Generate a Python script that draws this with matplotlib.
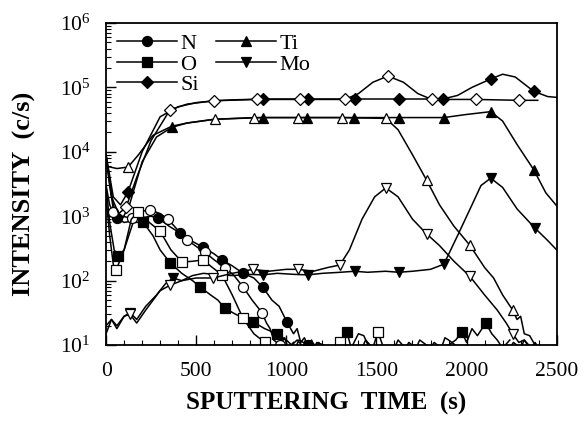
import numpy as np
import matplotlib
matplotlib.use("Agg")
import matplotlib.pyplot as plt
from matplotlib.ticker import LogLocator, MultipleLocator

plt.rcParams['font.family'] = ['Liberation Serif', 'DejaVu Serif']
plt.rcParams['mathtext.fontset'] = 'stix'

# ---- data (time s, intensity c/s) ----
# filled markers = sample A, open markers = sample B
si_a_t = [0, 40, 80, 122, 200, 300, 400, 500, 600, 700, 870, 1000, 1120, 1250, 1380, 1500, 1624, 1750, 1868, 1950, 2030, 2134, 2200, 2270, 2372, 2450, 2500]
si_a_v = [9000, 2000, 1500, 2400, 10000, 35000, 50000, 58000, 62000, 64000, 66000, 66000, 66000, 66000, 66000, 66000, 66000, 66000, 66000, 75000, 100000, 135000, 160000, 145000, 87000, 72000, 70000]
si_a_mk = [122, 870, 1120, 1380, 1624, 1868, 2134, 2372]

si_b_t = [0, 30, 70, 111, 170, 250, 355, 450, 600, 837, 1075, 1325, 1400, 1480, 1563, 1650, 1730, 1807, 2050, 2290, 2395]
si_b_v = [8000, 2000, 1100, 1380, 4000, 15000, 45000, 55000, 62000, 65000, 65000, 65000, 80000, 120000, 150000, 120000, 80000, 65000, 65000, 63000, 63000]
si_b_mk = [111, 355, 600, 837, 1075, 1325, 1563, 1807, 2050, 2290]

ti_a_t = [0, 40, 80, 130, 200, 280, 365, 450, 600, 870, 1114, 1375, 1624, 1874, 2000, 2134, 2200, 2280, 2372, 2440, 2500]
ti_a_v = [9000, 1500, 800, 1500, 7000, 17000, 24000, 28000, 32000, 34000, 34000, 34000, 34000, 34000, 38000, 42000, 30000, 13000, 5300, 2300, 1450]
ti_a_mk = [365, 870, 1114, 1375, 1624, 1874, 2134, 2372]

ti_b_t = [0, 60, 122, 180, 260, 365, 450, 604, 820, 1064, 1308, 1552, 1620, 1700, 1779, 1850, 1930, 2018, 2100, 2150, 2200, 2256, 2280, 2300, 2320, 2350, 2380, 2400]
ti_b_v = [6000, 5500, 5800, 9000, 18000, 25000, 28000, 32000, 34000, 34000, 34000, 33000, 22000, 9000, 3600, 1500, 700, 355, 160, 110, 60, 35, 25, 28, 15, 14, 10, 9]
ti_b_mk = [122, 604, 820, 1064, 1308, 1552, 1779, 2018, 2256]

mo_a_t = [0, 30, 60, 100, 133, 170, 220, 280, 330, 371, 420, 480, 540, 600, 700, 800, 870, 950, 1050, 1120, 1200, 1300, 1380, 1450, 1550, 1624, 1700, 1800, 1874, 1950, 2030, 2080, 2134, 2200, 2280, 2378, 2450, 2500]
mo_a_v = [15, 25, 20, 28, 32, 25, 40, 60, 90, 110, 100, 120, 130, 125, 120, 125, 123, 130, 125, 123, 130, 135, 140, 135, 140, 135, 140, 150, 180, 500, 1500, 3000, 3900, 2800, 1300, 660, 420, 300]
mo_a_mk = [133, 371, 870, 1120, 1380, 1624, 1874, 2134, 2378]

mo_b_t = [0, 30, 60, 100, 133, 170, 220, 300, 355, 420, 500, 593, 700, 815, 900, 1000, 1064, 1150, 1230, 1297, 1350, 1420, 1490, 1552, 1620, 1700, 1779, 1850, 1930, 2018, 2100, 2170, 2220, 2256, 2290, 2320, 2350]
mo_b_v = [20, 25, 18, 28, 30, 22, 35, 70, 85, 100, 110, 110, 130, 150, 140, 150, 150, 140, 160, 175, 300, 900, 2000, 2750, 2000, 900, 530, 350, 200, 117, 60, 35, 22, 15, 11, 12, 9]
mo_b_mk = [133, 355, 593, 815, 1064, 1297, 1552, 1779, 2018, 2256]

n_a_t = [0, 20, 40, 61, 100, 150, 200, 250, 290, 350, 410, 470, 538, 600, 643, 700, 760, 820, 870, 920, 960, 1003, 1040, 1060, 1080, 1100, 1120, 1140, 1160, 1180, 1200]
n_a_v = [9000, 3000, 1300, 930, 800, 850, 950, 1000, 930, 700, 550, 420, 330, 260, 210, 170, 130, 110, 79, 50, 40, 23, 15, 18, 11, 13, 10, 12, 9, 11, 9]
n_a_mk = [61, 290, 410, 538, 643, 760, 870, 1003, 1120]

n_b_t = [0, 20, 39, 90, 144, 200, 244, 300, 344, 400, 449, 500, 549, 600, 660, 710, 760, 810, 865, 890, 910, 930, 965, 990, 1010, 1040]
n_b_v = [3000, 1500, 1170, 1000, 930, 1200, 1250, 1100, 900, 600, 430, 340, 275, 210, 160, 120, 80, 50, 32, 22, 18, 12, 10, 13, 9, 11]
n_b_mk = [39, 144, 244, 344, 449, 549, 660, 760, 865, 965]

o_a_t = [0, 20, 45, 67, 100, 150, 205, 260, 300, 355, 420, 480, 521, 580, 620, 660, 720, 780, 815, 880, 948, 1000, 1030,
         1060, 1100, 1130, 1200, 1260, 1300, 1320, 1336, 1360, 1400, 1430, 1460, 1600, 1700, 1800, 1900, 1940, 1973, 2000, 2030, 2060, 2106, 2140, 2170, 2200,
         2240, 2260, 2300, 2320, 2360, 2380, 2400]
o_a_v = [3000, 800, 300, 240, 300, 800, 810, 500, 300, 190, 130, 100, 80, 60, 50, 37, 30, 25, 23, 18, 15, 12, 10,
         12, 9, 11, 9, 9, 9, 16, 16, 9, 15, 14, 9, 9, 10, 9, 10, 12, 16, 11, 18, 14, 22, 15, 12, 9,
         9, 11, 9, 12, 9, 11, 9]
o_a_mk = [67, 205, 355, 521, 660, 815, 948, 1336, 1973, 2106]

o_b_t = [0, 20, 40, 55, 100, 140, 177, 240, 299, 360, 421, 480, 538, 590, 643, 700, 760, 820, 881, 920, 1050, 1070, 1150, 1170, 1250, 1297, 1330,
         1420, 1440, 1480, 1508, 1540, 1600, 1620, 1660, 1680, 1720, 1740, 1800, 1820, 1860, 1880, 1900, 1960, 2200, 2240]
o_b_v = [2000, 500, 180, 145, 300, 900, 1170, 800, 590, 300, 195, 200, 210, 160, 123, 60, 26, 15, 11, 9, 9, 12, 9, 11, 9, 11, 9,
         9, 12, 9, 16, 9, 9, 12, 9, 11, 9, 12, 9, 11, 9, 13, 12, 9, 9, 12]
o_b_mk = [55, 177, 299, 421, 538, 643, 760, 881, 1297, 1508]

fig = plt.figure(figsize=(5.86, 4.25), dpi=100)
ax = fig.add_axes([0.181, 0.188, 0.769, 0.758])

sizes = {'o': 7.2, 's': 7.0, 'D': 6.3, '^': 7.5, 'v': 7.5}

def draw(t, v, mk, marker, filled, label=None):
    idx = [t.index(m) for m in mk]
    fc = 'black' if filled else 'white'
    ax.plot(t, v, color='black', lw=1.1, marker=marker, markevery=idx,
            markersize=sizes[marker], markerfacecolor=fc, markeredgecolor='black',
            markeredgewidth=0.9, label=label)

draw(n_a_t, n_a_v, n_a_mk, 'o', True, 'N')
draw(o_a_t, o_a_v, o_a_mk, 's', True, 'O')
draw(si_a_t, si_a_v, si_a_mk, 'D', True, 'Si')
draw(ti_a_t, ti_a_v, ti_a_mk, '^', True, 'Ti')
draw(mo_a_t, mo_a_v, mo_a_mk, 'v', True, 'Mo')
draw(n_b_t, n_b_v, n_b_mk, 'o', False)
draw(o_b_t, o_b_v, o_b_mk, 's', False)
draw(si_b_t, si_b_v, si_b_mk, 'D', False)
draw(ti_b_t, ti_b_v, ti_b_mk, '^', False)
draw(mo_b_t, mo_b_v, mo_b_mk, 'v', False)

ax.set_yscale('log')
ax.set_xlim(0, 2500)
ax.set_ylim(10, 1e6)
ax.xaxis.set_major_locator(MultipleLocator(500))
ax.xaxis.set_minor_locator(MultipleLocator(100))
ax.yaxis.set_minor_locator(LogLocator(base=10, subs=np.arange(2, 10), numticks=10))
ax.set_yticks([10, 100, 1e3, 1e4, 1e5, 1e6])
ax.set_yticklabels([r'$\mathregular{10^{%d}}$' % k for k in range(1, 7)])
ax.tick_params(which='both', direction='in', top=False, right=False, labelsize=15.5)
ax.tick_params(which='major', length=7, width=1.0)
ax.tick_params(which='minor', length=3.5, width=0.8)
ax.tick_params(axis='x', pad=12)
ax.tick_params(axis='y', pad=11)
for s in ax.spines.values():
    s.set_linewidth(1.3)

ax.set_xlabel('SPUTTERING  TIME  (s)', fontsize=18, fontweight='bold')
ax.set_ylabel('INTENSITY  (c/s)', fontsize=19, fontweight='bold')
ax.xaxis.set_label_coords(0.488, -0.145)
ax.yaxis.set_label_coords(-0.155, 0.47)

ax.legend(ncol=2, loc='upper left', frameon=False, fontsize=16, handlelength=2.7,
          handletextpad=0.15, columnspacing=0.75, labelspacing=0.0,
          borderaxespad=0.0, bbox_to_anchor=(0.005, 0.995))

fig.savefig('out.png', dpi=100)
